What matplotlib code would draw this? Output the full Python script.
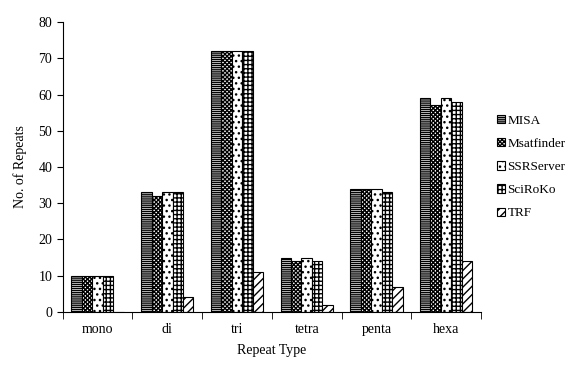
import numpy as np
import matplotlib.pyplot as plt

plt.rcParams['font.family'] = ['Liberation Serif', 'DejaVu Serif']
plt.rcParams['hatch.linewidth'] = 1.0

categories = ["mono", "di", "tri", "tetra", "penta", "hexa"]
series = ["MISA", "Msatfinder", "SSRServer", "SciRoKo", "TRF"]
misa = [10, 33, 72, 15, 34, 59]
msatfinder = [10, 32, 72, 14, 34, 57]
ssrserver = [10, 33, 72, 15, 34, 59]
sciroko = [10, 33, 72, 14, 33, 58]
trf = [0, 4, 11, 2, 7, 14]
values = [misa, msatfinder, ssrserver, sciroko, trf]
hatches = ["--------", "xxxxxxxx", "...", "++++", "////"]

fig = plt.figure(figsize=(5.76, 3.8), dpi=100)
ax = fig.add_axes([0.109, 0.179, 0.726, 0.763])

x = np.arange(len(categories))
w = 0.15
for i, (name, vals) in enumerate(zip(series, values)):
    ax.bar(x - 2 * w + i * w, vals, w, label=name, color="white",
           edgecolor="black", linewidth=0.8, hatch=hatches[i])

ax.set_xlim(-0.5, len(categories) - 0.5)
ax.set_ylim(0, 80)
ax.set_yticks(range(0, 81, 10))
ax.set_xticks(x)
ax.set_xticklabels(categories)
ax.set_xticks(np.arange(-0.5, len(categories)), minor=True)
ax.tick_params(axis="x", which="major", length=0, pad=8)
ax.tick_params(axis="x", which="minor", length=5, direction="out")
ax.tick_params(axis="y", length=4, direction="out")
ax.tick_params(labelsize=10)
for s in ["top", "right"]:
    ax.spines[s].set_visible(False)

ax.set_xlabel("Repeat Type", fontsize=10, labelpad=6)
ax.set_ylabel("No. of Repeats", fontsize=10, labelpad=8)

ax.legend(loc="center left", bbox_to_anchor=(1.01, 0.5), frameon=False,
          fontsize=9.5, handlelength=0.6, handleheight=0.6, handletextpad=0.2,
          labelspacing=0.85)

fig.savefig("out.png", dpi=100)
